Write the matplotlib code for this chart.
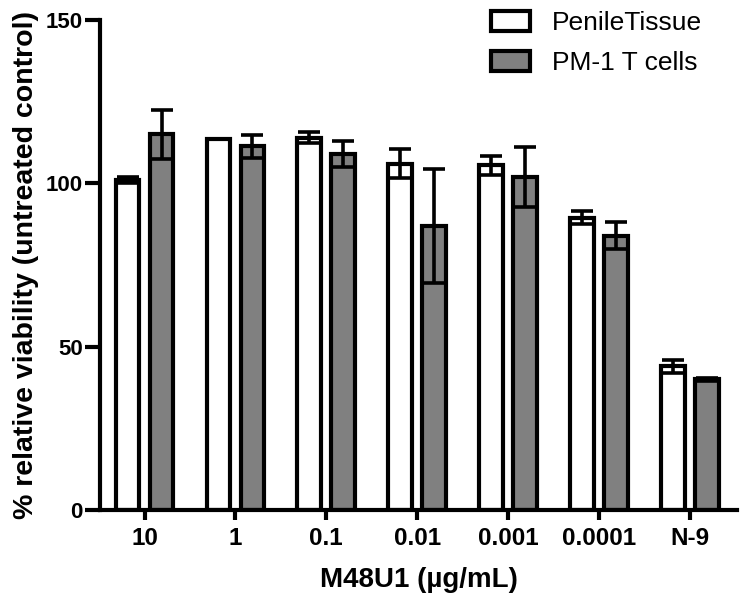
import matplotlib
matplotlib.use("Agg")
import matplotlib.pyplot as plt
import numpy as np

categories = ["10", "1", "0.1", "0.01", "0.001", "0.0001", "N-9"]
penile_mean = [101, 113.5, 114, 106, 105.5, 89.5, 44]
penile_err = [0.8, 0.0, 1.6, 4.4, 2.8, 2.0, 2.0]
pm1_mean = [115, 111.3, 109, 87, 102, 84, 40]
pm1_err = [7.6, 3.5, 4.0, 17.5, 9.2, 4.2, 0.5]
series_names = ["PenileTissue", "PM-1 T cells"]
yticks = [0, 50, 100, 150]

plt.rcParams['font.family'] = ['Liberation Sans', 'DejaVu Sans']

fig = plt.figure(figsize=(7.45, 6.01), dpi=100)
ax = fig.add_axes([100/745, 91/601, 637/745, 490/601])

x = np.arange(len(categories))
w = 0.26
off = 0.187
lw = 3.0
ekw = dict(elinewidth=2.6, capthick=2.6)
b1 = ax.bar(x - off, penile_mean, w, color='white', edgecolor='black', linewidth=lw,
            yerr=penile_err, capsize=8, error_kw=ekw, label=series_names[0])
b2 = ax.bar(x + off, pm1_mean, w, color='#808080', edgecolor='black', linewidth=lw,
            yerr=pm1_err, capsize=8, error_kw=ekw, label=series_names[1])

ax.set_xlim(-0.49, 6.52)
ax.set_ylim(0, 150)
ax.set_yticks(yticks)
ax.set_xticks(x)
ax.set_xticklabels(categories, fontsize=17.5, fontweight='bold')
ax.set_yticklabels([str(t) for t in yticks], fontsize=16, fontweight='bold')
for s in ['top', 'right']:
    ax.spines[s].set_visible(False)
for s in ['left', 'bottom']:
    ax.spines[s].set_linewidth(3)
ax.tick_params(axis='x', width=3, length=7.5, direction='out', pad=5)
ax.tick_params(axis='y', width=3, length=11, direction='out', pad=1.5)
ax.set_ylabel("% relative viability (untreated control)", fontsize=20.5, fontweight='bold', labelpad=5)
ax.set_xlabel("M48U1 (µg/mL)", fontsize=20, fontweight='bold', labelpad=12)

leg = fig.legend(handles=[b1, b2], labels=series_names, loc='upper left',
                 bbox_to_anchor=(473/745, 1.012), frameon=False, fontsize=19,
                 handlelength=1.45, handleheight=0.75, labelspacing=0.6, handletextpad=0.85,
                 borderaxespad=0.3)

fig.savefig("out.png", dpi=100)
